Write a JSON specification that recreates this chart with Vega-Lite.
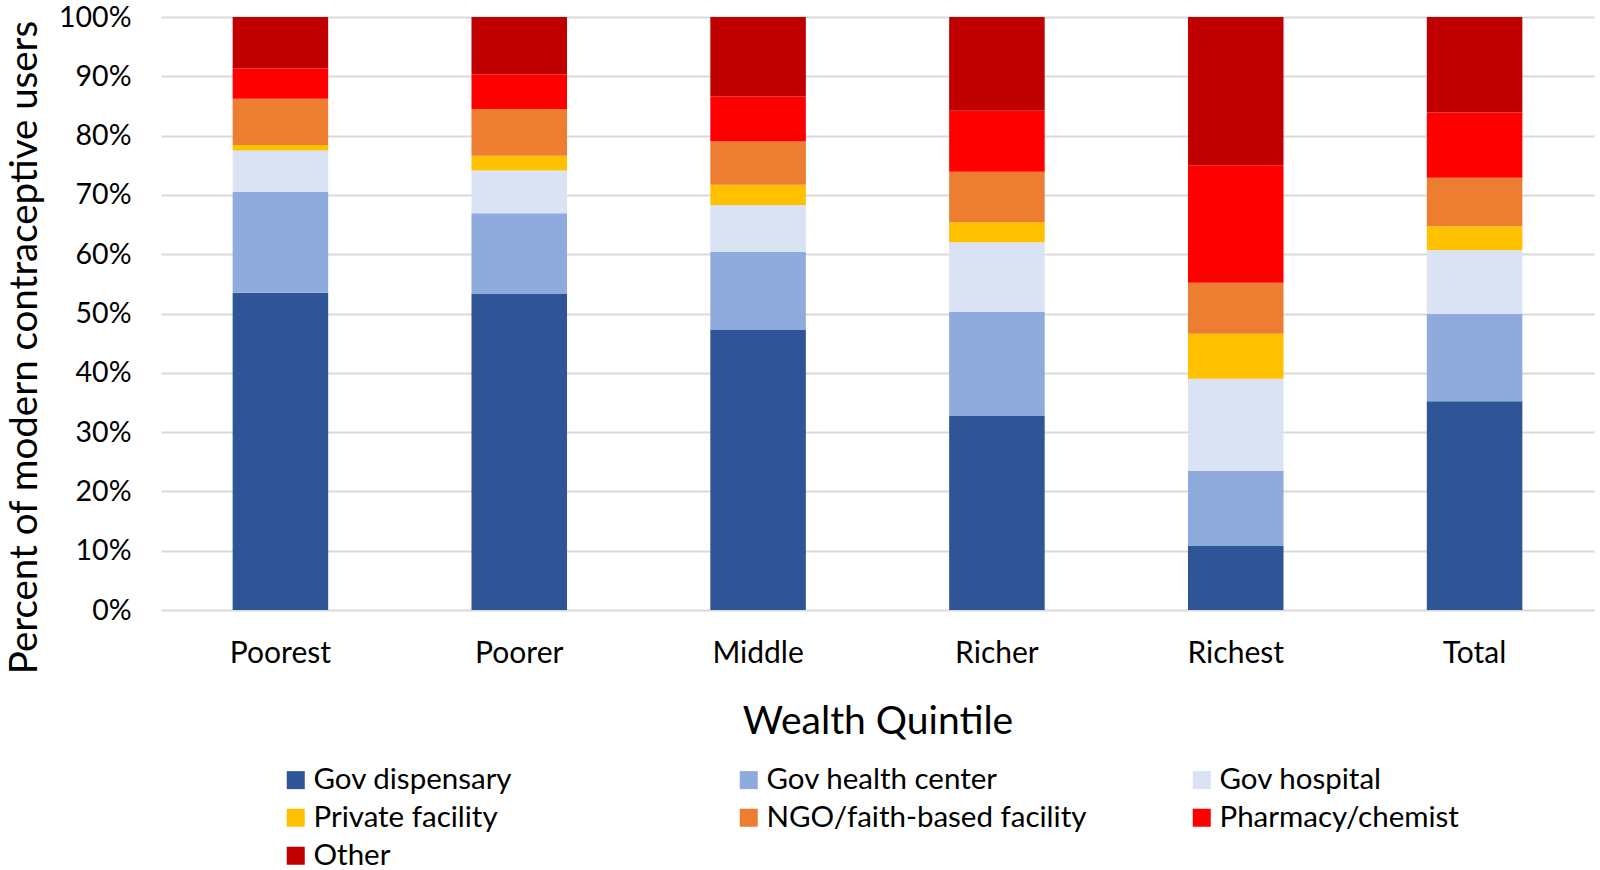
{
  "$schema": "https://vega.github.io/schema/vega-lite/v6.json",
  "autosize": {"type": "none"},
  "width": 1433,
  "height": 593,
  "padding": {"left": 161, "top": 17, "right": 6, "bottom": 260},
  "background": "white",
  "data": {
    "values": [
      {"q": "Poorest", "s": "Gov dispensary", "k": 1, "v": 53.5},
      {"q": "Poorest", "s": "Gov health center", "k": 2, "v": 17.0},
      {"q": "Poorest", "s": "Gov hospital", "k": 3, "v": 7.0},
      {"q": "Poorest", "s": "Private facility", "k": 4, "v": 0.9},
      {"q": "Poorest", "s": "NGO/faith-based facility", "k": 5, "v": 7.8},
      {"q": "Poorest", "s": "Pharmacy/chemist", "k": 6, "v": 5.1},
      {"q": "Poorest", "s": "Other", "k": 7, "v": 8.7},
      {"q": "Poorer", "s": "Gov dispensary", "k": 1, "v": 53.3},
      {"q": "Poorer", "s": "Gov health center", "k": 2, "v": 13.6},
      {"q": "Poorer", "s": "Gov hospital", "k": 3, "v": 7.2},
      {"q": "Poorer", "s": "Private facility", "k": 4, "v": 2.5},
      {"q": "Poorer", "s": "NGO/faith-based facility", "k": 5, "v": 7.9},
      {"q": "Poorer", "s": "Pharmacy/chemist", "k": 6, "v": 5.8},
      {"q": "Poorer", "s": "Other", "k": 7, "v": 9.7},
      {"q": "Middle", "s": "Gov dispensary", "k": 1, "v": 47.3},
      {"q": "Middle", "s": "Gov health center", "k": 2, "v": 13.1},
      {"q": "Middle", "s": "Gov hospital", "k": 3, "v": 7.9},
      {"q": "Middle", "s": "Private facility", "k": 4, "v": 3.4},
      {"q": "Middle", "s": "NGO/faith-based facility", "k": 5, "v": 7.3},
      {"q": "Middle", "s": "Pharmacy/chemist", "k": 6, "v": 7.6},
      {"q": "Middle", "s": "Other", "k": 7, "v": 13.4},
      {"q": "Richer", "s": "Gov dispensary", "k": 1, "v": 32.8},
      {"q": "Richer", "s": "Gov health center", "k": 2, "v": 17.5},
      {"q": "Richer", "s": "Gov hospital", "k": 3, "v": 11.7},
      {"q": "Richer", "s": "Private facility", "k": 4, "v": 3.4},
      {"q": "Richer", "s": "NGO/faith-based facility", "k": 5, "v": 8.5},
      {"q": "Richer", "s": "Pharmacy/chemist", "k": 6, "v": 10.3},
      {"q": "Richer", "s": "Other", "k": 7, "v": 15.8},
      {"q": "Richest", "s": "Gov dispensary", "k": 1, "v": 10.8},
      {"q": "Richest", "s": "Gov health center", "k": 2, "v": 12.7},
      {"q": "Richest", "s": "Gov hospital", "k": 3, "v": 15.5},
      {"q": "Richest", "s": "Private facility", "k": 4, "v": 7.6},
      {"q": "Richest", "s": "NGO/faith-based facility", "k": 5, "v": 8.6},
      {"q": "Richest", "s": "Pharmacy/chemist", "k": 6, "v": 19.8},
      {"q": "Richest", "s": "Other", "k": 7, "v": 25.0},
      {"q": "Total", "s": "Gov dispensary", "k": 1, "v": 35.2},
      {"q": "Total", "s": "Gov health center", "k": 2, "v": 14.7},
      {"q": "Total", "s": "Gov hospital", "k": 3, "v": 10.8},
      {"q": "Total", "s": "Private facility", "k": 4, "v": 4.0},
      {"q": "Total", "s": "NGO/faith-based facility", "k": 5, "v": 8.2},
      {"q": "Total", "s": "Pharmacy/chemist", "k": 6, "v": 11.0},
      {"q": "Total", "s": "Other", "k": 7, "v": 16.1}
    ]
  },
  "mark": {"type": "bar"},
  "encoding": {
    "x": {
      "field": "q",
      "type": "nominal",
      "sort": ["Poorest", "Poorer", "Middle", "Richer", "Richest", "Total"],
      "scale": {"paddingInner": 0.6, "paddingOuter": 0.3},
      "axis": {
        "title": "Wealth Quintile",
        "labelAngle": 0,
        "labelFontSize": 30,
        "labelFont": "Lato",
        "labelColor": "#000000",
        "labelPadding": 28,
        "ticks": false,
        "domain": false,
        "grid": false,
        "titleFont": "Lato",
        "titleFontSize": 39,
        "titleFontWeight": "normal",
        "titleColor": "#000000",
        "titleY": 111,
        "titleBaseline": "middle"
      }
    },
    "y": {
      "field": "v",
      "type": "quantitative",
      "stack": "zero",
      "scale": {"domain": [0, 100]},
      "axis": {
        "title": "Percent of modern contraceptive users",
        "values": [0, 10, 20, 30, 40, 50, 60, 70, 80, 90, 100],
        "labelExpr": "datum.value + '%'",
        "labelFontSize": 28.5,
        "labelFont": "Lato",
        "labelColor": "#000000",
        "labelPadding": 30,
        "ticks": false,
        "domain": false,
        "grid": true,
        "gridColor": "#D9D9D9",
        "gridWidth": 2,
        "titleFont": "Lato",
        "titleFontSize": 38.5,
        "titleFontWeight": "normal",
        "titleColor": "#000000",
        "titleX": -137,
        "titleY": 330,
        "titleAngle": 270,
        "titleAlign": "center",
        "titleBaseline": "middle"
      }
    },
    "color": {
      "field": "s",
      "type": "nominal",
      "sort": ["Gov dispensary", "Gov health center", "Gov hospital", "Private facility", "NGO/faith-based facility", "Pharmacy/chemist", "Other"],
      "scale": {
        "domain": ["Gov dispensary", "Gov health center", "Gov hospital", "Private facility", "NGO/faith-based facility", "Pharmacy/chemist", "Other"],
        "range": ["#2F5597", "#8FAADC", "#DAE3F3", "#FFC000", "#ED7D31", "#FF0000", "#C00000"]
      },
      "legend": {
        "title": null,
        "orient": "none",
        "legendX": 120,
        "legendY": 748,
        "direction": "horizontal",
        "columns": 3,
        "gridAlign": "all",
        "columnPadding": 100,
        "rowPadding": 7,
        "symbolType": "square",
        "symbolSize": 324,
        "symbolStrokeWidth": 0,
        "labelFont": "Lato",
        "labelFontSize": 29.5,
        "labelColor": "#000000",
        "labelOffset": 3,
        "labelLimit": 500
      }
    },
    "order": {"field": "k", "type": "quantitative", "sort": "ascending"}
  },
  "config": {"view": {"stroke": null}}
}
